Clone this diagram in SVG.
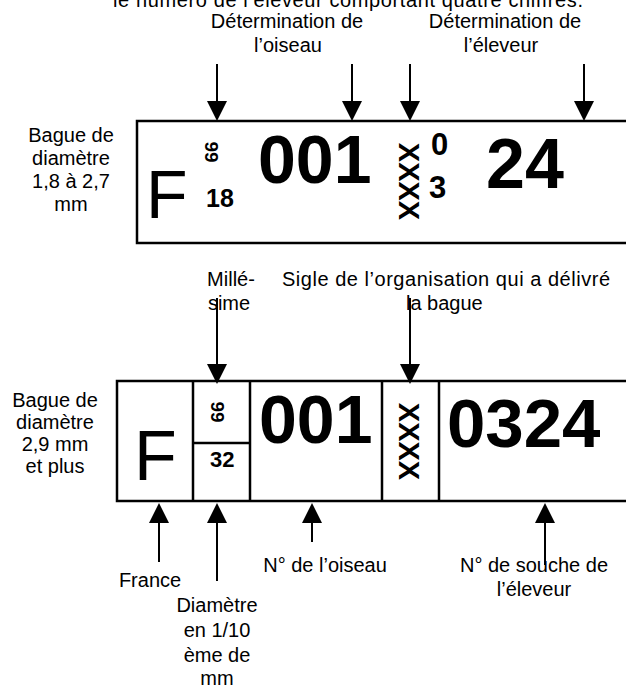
<svg xmlns="http://www.w3.org/2000/svg" width="626" height="688" viewBox="0 0 626 688">
<style>
text{font-family:"Liberation Sans",Arial,sans-serif;fill:#000}
.lbl{font-size:20px;text-anchor:middle}
.lbs{font-size:20px}
.big{font-size:68px;font-weight:bold}
.bold{font-weight:bold}
.box{fill:#fff;stroke:#000;stroke-width:2.5}
.div{stroke:#000;stroke-width:2.5;fill:none}
.con line{stroke:#000;stroke-width:2}
</style>
<defs>
<marker id="ah" viewBox="0 0 20 20" refX="0" refY="10" markerWidth="20" markerHeight="20" markerUnits="userSpaceOnUse" orient="auto">
<path d="M0,0 L20,10 L0,20 z" fill="#000"/>
</marker>
</defs>
<rect width="626" height="688" fill="#fff"/>

<g id="intro">
<text class="lbl" x="348" y="6.5" textLength="470" lengthAdjust="spacing">le numéro de l’éleveur comportant quatre chiffres.</text>
</g>
<g id="label-oiseau-top">
<text class="lbl" x="287" y="28">Détermination de</text>
<text class="lbl" x="288" y="52">l’oiseau</text>
</g>
<g id="label-eleveur-top">
<text class="lbl" x="505" y="28">Détermination de</text>
<text class="lbl" x="501" y="52">l’éleveur</text>
</g>

<g id="label-small">
<text class="lbl" x="71" y="142">Bague de</text>
<text class="lbl" x="71" y="165">diamètre</text>
<text class="lbl" x="71" y="188">1,8 à 2,7</text>
<text class="lbl" x="71" y="211">mm</text>
</g>

<g id="ring-small">
<rect class="box" x="137" y="121" width="510" height="122"/>
<text x="146" y="218" style="font-size:68px">F</text>
<text class="bold" style="font-size:19px" text-anchor="middle" transform="translate(212,152) rotate(90)" y="6.8">99</text>
<text class="bold" x="206" y="207" style="font-size:25px">18</text>
<text class="big" x="258" y="183">001</text>
<text class="bold" style="font-size:29px" text-anchor="middle" transform="translate(409,181.5) rotate(90)" y="10.4">XXXX</text>
<text class="bold" x="431" y="155" style="font-size:31px">0</text>
<text class="bold" x="429" y="198" style="font-size:31px">3</text>
<text class="big" x="486" y="188" style="font-size:70px">24</text>
</g>

<g id="label-millesime">
<text class="lbl" x="231" y="286">Millé-</text>
<text class="lbl" x="229" y="310">sime</text>
</g>
<g id="label-sigle">
<text class="lbs" x="282" y="286" textLength="328" lengthAdjust="spacing">Sigle de l’organisation qui a délivré</text>
<text class="lbs" x="406" y="310">la bague</text>
</g>

<g id="label-large">
<text class="lbl" x="55" y="407">Bague de</text>
<text class="lbl" x="55" y="429">diamètre</text>
<text class="lbl" x="55" y="451">2,9 mm</text>
<text class="lbl" x="55" y="473">et plus</text>
</g>

<g id="ring-large">
<rect class="box" x="117" y="381" width="530" height="120"/>
<path class="div" d="M193,381 V501 M250,381 V501 M382,381 V501 M439,381 V501 M193,443 H250"/>
<text x="134" y="480" style="font-size:70px">F</text>
<text class="bold" style="font-size:19px" text-anchor="middle" transform="translate(218,412) rotate(90)" y="6.8">99</text>
<text class="bold" x="210" y="467" style="font-size:22px">32</text>
<text class="big" x="259" y="443">001</text>
<text class="bold" style="font-size:29px" text-anchor="middle" transform="translate(409,441.5) rotate(90)" y="10.4">XXXX</text>
<text class="big" x="447" y="447" style="font-size:69px">0324</text>
</g>

<g id="label-france">
<text class="lbl" x="150" y="587">France</text>
</g>
<g id="label-diametre">
<text class="lbl" x="217" y="612">Diamètre</text>
<text class="lbl" x="217" y="637">en 1/10</text>
<text class="lbl" x="217" y="662">ème de</text>
<text class="lbl" x="217" y="685">mm</text>
</g>
<g id="label-no-oiseau">
<text class="lbl" x="325" y="572">N° de l’oiseau</text>
</g>
<g id="label-souche">
<text class="lbl" x="534" y="572">N° de souche de</text>
<text class="lbl" x="534" y="596">l’éleveur</text>
</g>

<g id="connectors" class="con">
<line x1="217" y1="64" x2="217" y2="101" marker-end="url(#ah)"/>
<line x1="352" y1="64" x2="352" y2="101" marker-end="url(#ah)"/>
<line x1="410" y1="64" x2="410" y2="101" marker-end="url(#ah)"/>
<line x1="584" y1="64" x2="584" y2="101" marker-end="url(#ah)"/>
<line x1="217" y1="298" x2="217" y2="364" marker-end="url(#ah)"/>
<line x1="410" y1="298" x2="410" y2="364" marker-end="url(#ah)"/>
<line x1="159" y1="562" x2="159" y2="523" marker-end="url(#ah)"/>
<line x1="217" y1="581" x2="217" y2="523" marker-end="url(#ah)"/>
<line x1="312" y1="542" x2="312" y2="523" marker-end="url(#ah)"/>
<line x1="545" y1="565" x2="545" y2="523" marker-end="url(#ah)"/>
</g>
</svg>
